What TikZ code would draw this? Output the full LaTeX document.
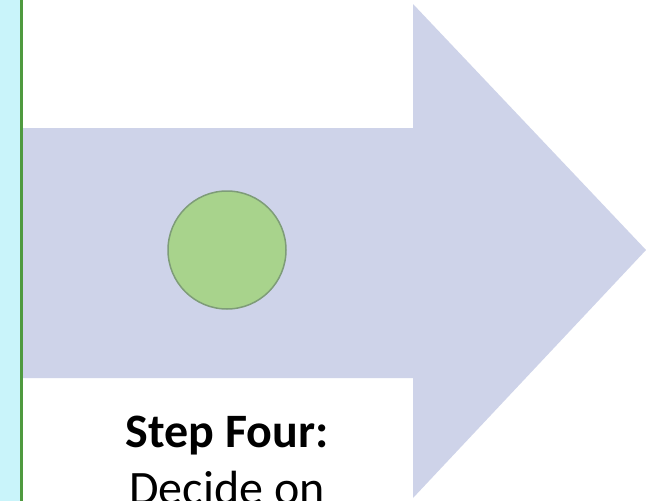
\documentclass[tikz,border=0pt]{standalone}
\usepackage{fontspec}
\setmainfont{Carlito}
\definecolor{stripcyan}{HTML}{C9F4FA}
\definecolor{stripgreen}{HTML}{4F9A3F}
\definecolor{arrowfill}{HTML}{CED3E9}
\definecolor{dotfill}{HTML}{A8D38C}
\definecolor{dotline}{HTML}{7E9C78}
\begin{document}
\begin{tikzpicture}[x=1pt,y=-1pt,
  dot/.style={circle,minimum size=118pt,inner sep=0pt,fill=dotfill,draw=dotline,line width=1.5pt},
  steplabel/.style={font=\fontsize{48}{57}\selectfont,anchor=base,inner sep=0pt}]
\useasboundingbox (0,0) rectangle (646,501);
\clip (0,0) rectangle (646,501);
\fill[white] (0,0) rectangle (646,501);
\fill[stripcyan] (0,0) rectangle (20,501);
\fill[stripgreen] (20,0) rectangle (23,501);
\fill[arrowfill] (23,128) -- (413,128) -- (413,4) -- (646,250) -- (413,498) -- (413,378) -- (23,378) -- cycle;
\node[dot] (circ) at (227,250) {};
\node[steplabel] (lbl) at (227,447) {\textbf{Step Four:}};
\node[steplabel] (lbl2) at (227,504) {Decide on};
\end{tikzpicture}
\end{document}
